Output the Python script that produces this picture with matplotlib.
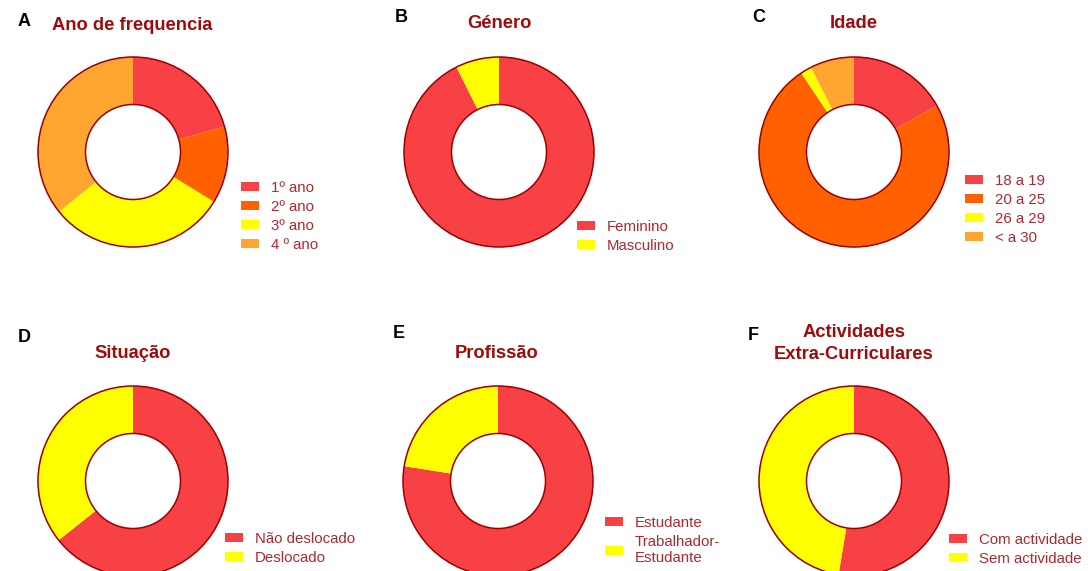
import matplotlib.pyplot as plt
from matplotlib.patches import Patch, Circle

plt.rcParams['font.family'] = ['Liberation Sans', 'DejaVu Sans']

# data (shares in %)
ano_labels = ['1º ano', '2º ano', '3º ano', '4 º ano']
ano_vals = [20.7, 13.1, 30.4, 35.8]
genero_labels = ['Feminino', 'Masculino']
genero_vals = [92.6, 7.4]
idade_labels = ['18 a 19', '20 a 25', '26 a 29', '< a 30']
idade_vals = [16.9, 73.8, 1.9, 7.5]
situacao_labels = ['Não deslocado', 'Deslocado']
situacao_vals = [64.3, 35.7]
profissao_labels = ['Estudante', 'Trabalhador-\nEstudante']
profissao_vals = [77.5, 22.5]
extra_labels = ['Com actividade', 'Sem actividade']
extra_vals = [52.6, 47.4]

RED = '#F74145'
ORANGE = '#FF6000'
YELLOW = '#FFFF00'
LORANGE = '#FFA530'
EDGE = '#9E0000'
TITLE_C = '#A00A0A'
LEG_C = '#B02830'

W, H = 1088, 571
fig = plt.figure(figsize=(W / 100, H / 100), dpi=100)

# (letter, title, labels, values, colors, donut centre px, letter pos, title pos, legend pos)
panels = [
    ('A', 'Ano de frequencia', ano_labels, ano_vals, [RED, ORANGE, YELLOW, LORANGE],
     (133, 152), (18, 22), (132, 25), (241, 181)),
    ('B', 'Género', genero_labels, genero_vals, [RED, YELLOW],
     (499, 152), (395, 18), (499, 24), (577, 220)),
    ('C', 'Idade', idade_labels, idade_vals, [RED, ORANGE, YELLOW, LORANGE],
     (854, 152), (752, 18), (854, 24), (965, 174)),
    ('D', 'Situação', situacao_labels, situacao_vals, [RED, YELLOW],
     (133, 481), (18, 338), (133, 353), (225, 532)),
    ('E', 'Profissão', profissao_labels, profissao_vals, [RED, YELLOW],
     (498, 481), (393, 334), (497, 353), (605, 516)),
    ('F', 'Actividades\nExtra-Curriculares', extra_labels, extra_vals, [RED, YELLOW],
     (854, 481), (748, 336), (854, 343.5), (949, 533)),
]

R = 95
for letter, title, labels, vals, cols, (cx, cy), (lx, ly), (tx, ty), (gx, gy) in panels:
    ax = fig.add_axes([(cx - R) / W, 1 - (cy + R) / H, 2 * R / W, 2 * R / H])
    wedges, _ = ax.pie(vals, colors=cols, startangle=90, counterclock=False,
                       radius=1, wedgeprops=dict(width=0.5, edgecolor='none'))
    # outline only on the outer and inner rims
    for rr in (1.0, 0.5):
        ax.add_patch(Circle((0, 0), rr, fill=False, edgecolor=EDGE,
                            linewidth=1.1, clip_on=False))
    ax.set_xlim(-1, 1)
    ax.set_ylim(-1, 1)
    ax.set_aspect('equal')
    ax.axis('off')

    fig.text(lx / W, 1 - ly / H, letter, fontsize=13, fontweight='bold',
             ha='left', va='center', color='black')
    fig.text(tx / W, 1 - ty / H, title, fontsize=13.2, fontweight='bold',
             ha='center', va='center', color=TITLE_C, linespacing=1.4)

    handles = [Patch(facecolor=c, edgecolor='none') for c in cols]
    ax.legend(handles, labels, loc='upper left', bbox_to_anchor=(gx / W, 1 - gy / H),
              bbox_transform=fig.transFigure, frameon=False, fontsize=10.8,
              labelcolor=LEG_C, borderpad=0, borderaxespad=0,
              handlelength=1.2, handleheight=0.6, handletextpad=0.8,
              labelspacing=0.33)

fig.savefig('out.png', dpi=100)
